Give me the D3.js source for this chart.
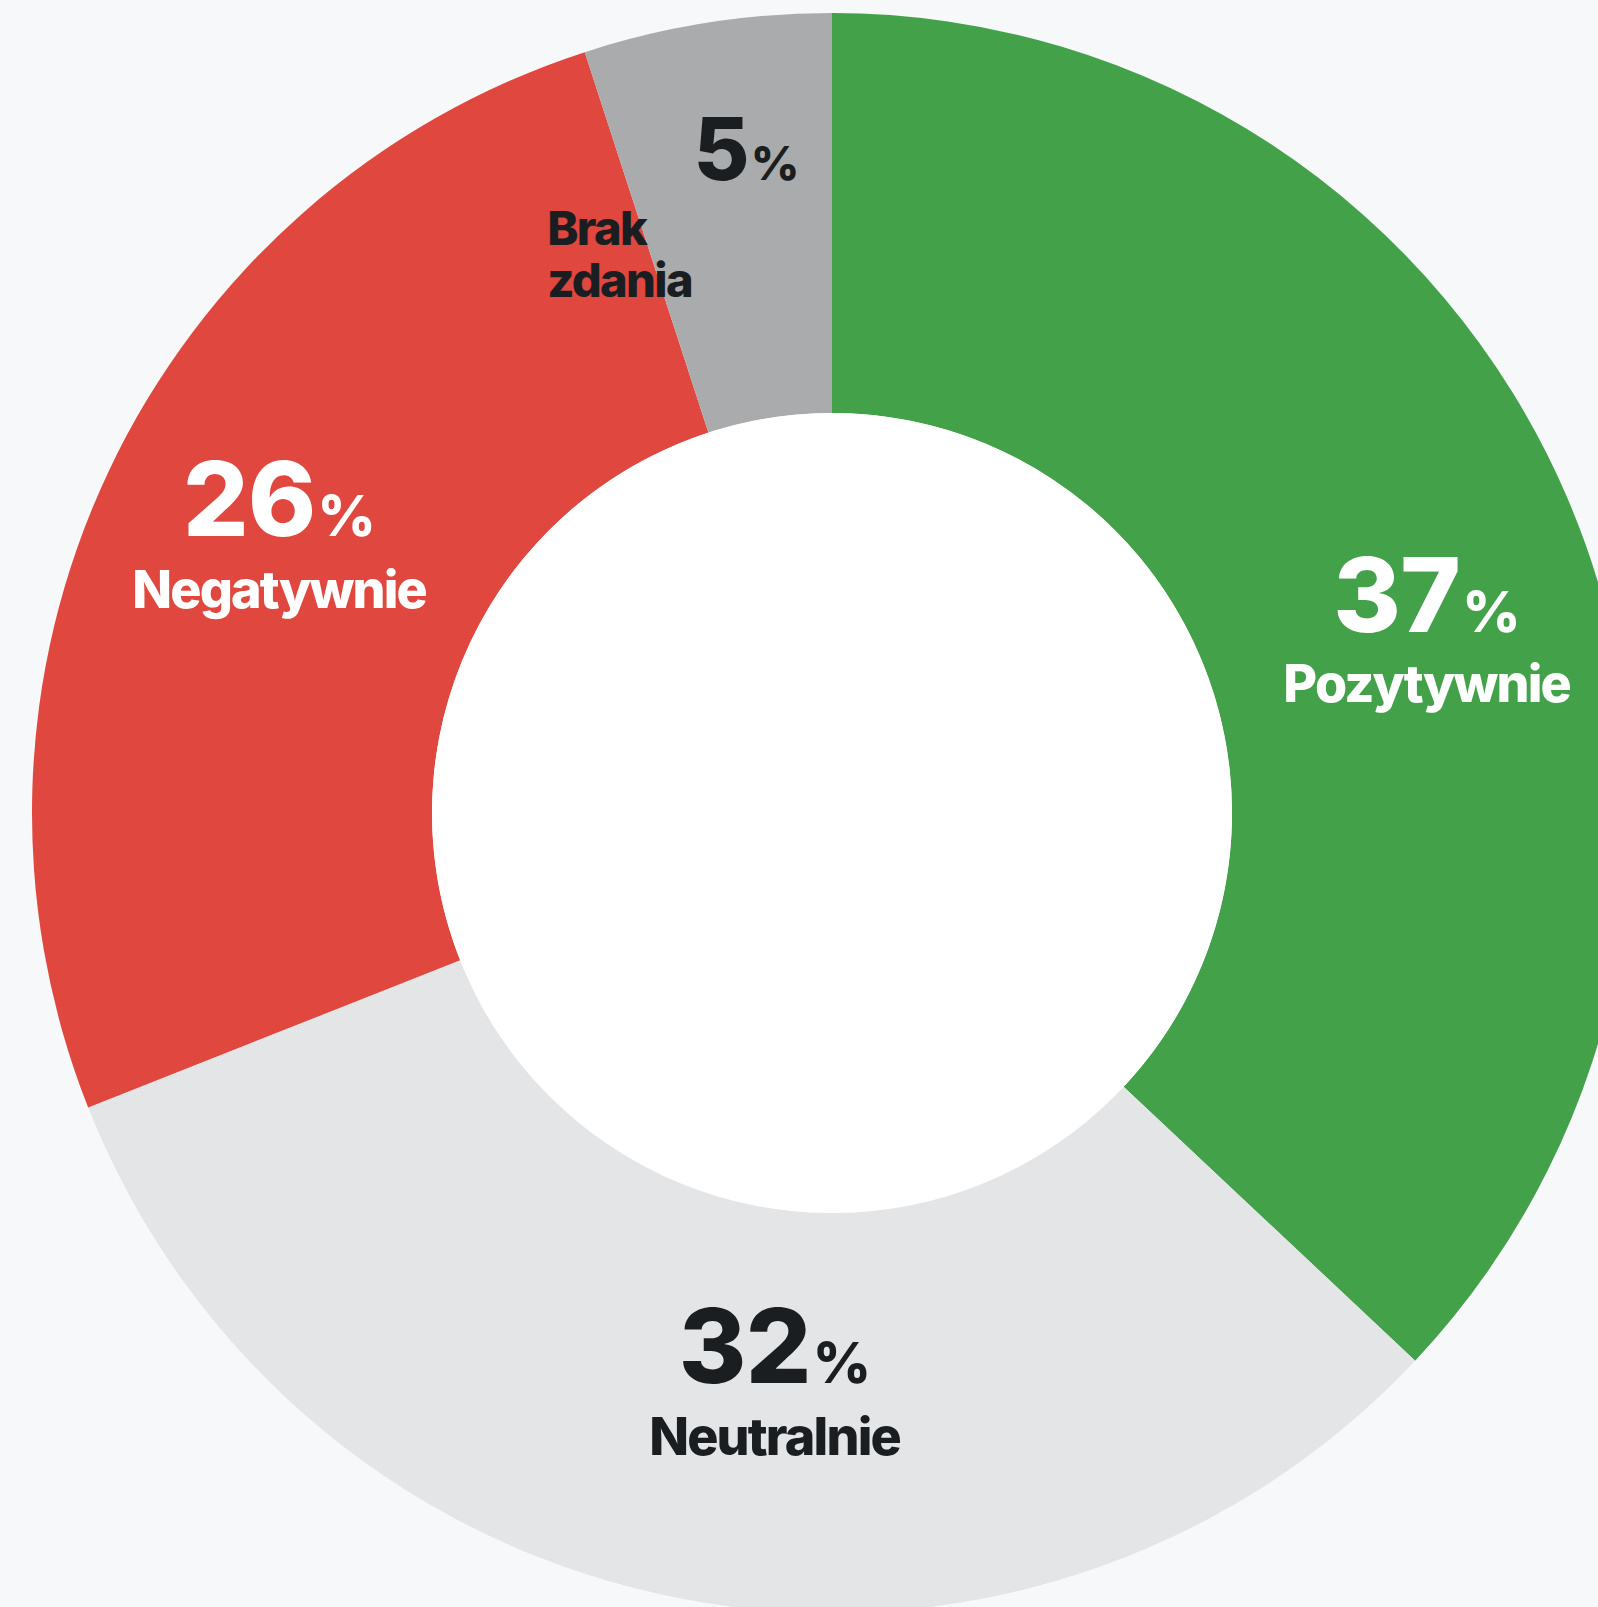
<!DOCTYPE html>
<html>
<head>
<meta charset="utf-8">
<script src="https://cdn.jsdelivr.net/npm/d3@7"></script>
<style>
    body { margin: 0; background: #f7f8fa; overflow: hidden; }
    svg { display: block; }
</style>
</head>
<body>
<div id="donut"></div>
<script>
const categories = ["Pozytywnie", "Neutralnie", "Negatywnie", "Brak zdania"];
const values = [37, 32, 26, 5];
const sliceColors = ["#43a149", "#e4e5e7", "#df473f", "#aaabad"];
const textColors = ["#ffffff", "#1b1e21", "#ffffff", "#1b1e21"];

function createDonut() {
    var width = 1598;
    var height = 1607;
    var cx = 832, cy = 813;
    var outer = 800, inner = 400;

    // label placement relative to the arc centroid, tuned by eye
    var labelLayout = [
        {dx: 44, dy: 57, numSize: 103, lblSize: 52, gap: 70},
        {dx: 55, dy: -19, numSize: 103, lblSize: 52, gap: 72},
        {dx: -10, dy: -22, numSize: 103, lblSize: 52, gap: 72},
        {dx: 8, dy: -40, numSize: 86, lblSize: 47, gap: 65, wrap: true, lblDx: -199, lineH: 52}
    ];

    var data = values.map((v, i) => ({name: categories[i], value: v, i: i}));

    var pie = d3.pie()
        .sort(null)
        .value(d => d.value);

    var arc = d3.arc()
        .innerRadius(inner)
        .outerRadius(outer);

    var svg = d3.select("#donut")
        .append("svg")
            .attr("width", width)
            .attr("height", height)
            .attr("viewBox", [0, 0, width, height]);

    svg.append("rect")
        .attr("width", width)
        .attr("height", height)
        .attr("fill", "#f7f8fa");

    var g = svg.append("g")
        .attr("transform", `translate(${cx},${cy})`);

    var arcs = pie(data);

    g.selectAll("path")
        .data(arcs)
        .join("path")
            .attr("fill", d => sliceColors[d.data.i])
            .attr("d", arc);

    g.append("circle")
        .attr("r", inner)
        .attr("fill", "#ffffff");

    var labels = g.selectAll("g.label")
        .data(arcs)
        .join("g")
            .attr("class", "label")
            .attr("font-family", "Inter, 'Noto Sans', sans-serif")
            .attr("font-weight", 800)
            .attr("fill", d => textColors[d.data.i])
            .attr("transform", d => {
                var c = arc.centroid(d);
                var l = labelLayout[d.data.i];
                return `translate(${c[0] + l.dx},${c[1] + l.dy})`;
            });

    var num = labels.append("text")
        .attr("text-anchor", "middle")
        .attr("letter-spacing", "-0.04em");
    num.append("tspan")
        .attr("font-size", d => labelLayout[d.data.i].numSize)
        .text(d => d.data.value);
    num.append("tspan")
        .attr("font-size", d => labelLayout[d.data.i].numSize * 0.55)
        .attr("dx", 2)
        .text("%");

    labels.each(function(d) {
        var l = labelLayout[d.data.i];
        var lines = l.wrap ? d.data.name.split(" ") : [d.data.name];
        var t = d3.select(this).append("text")
            .attr("text-anchor", l.wrap ? "start" : "middle")
            .attr("font-size", l.lblSize)
            .attr("letter-spacing", "-0.035em");
        lines.forEach((line, k) => {
            t.append("tspan")
                .attr("x", l.lblDx || 0)
                .attr("y", l.gap + k * (l.lineH || 0))
                .text(line);
        });
    });
}

createDonut();
</script>
</body>
</html>
